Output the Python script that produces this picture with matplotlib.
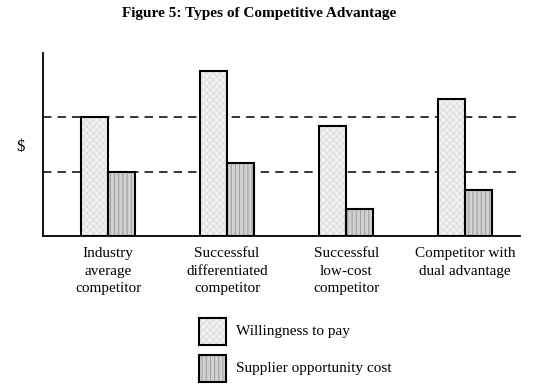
import matplotlib
matplotlib.use("Agg")
import matplotlib.pyplot as plt
import matplotlib.patches as mpatches
import numpy as np

plt.rcParams['font.family'] = ['Liberation Serif', 'DejaVu Serif']
plt.rcParams['hatch.linewidth'] = 0.7

categories = ["Industry\naverage\ncompetitor",
              "Successful\ndifferentiated\ncompetitor",
              "Successful\nlow-cost\ncompetitor",
              "Competitor with\ndual advantage"]
willingness = [65, 90, 60, 75]
supplier_cost = [35, 40, 15, 25]
reference_levels = [65, 35]

series_names = ["Willingness to pay", "Supplier opportunity cost"]

WTP_FACE = '#f2f2f2'
WTP_HATCH = '#dedede'
SOC_FACE = '#d2d2d2'
SOC_HATCH = '#9a9a9a'

fig = plt.figure(figsize=(5.4, 3.91), dpi=100)
ax = fig.add_axes([0.0796, 0.396, 0.8834, 0.468])

x = np.arange(len(categories))
w = 0.227

# dashed reference lines behind bars
for lvl in reference_levels:
    ax.axhline(lvl, color='black', linestyle=(0, (5.5, 4)), linewidth=1.1, zorder=1)

# textured fill first, then a black outline on top
ax.bar(x - w / 2, willingness, w, color=WTP_FACE, edgecolor=WTP_HATCH,
       linewidth=0, hatch='xxxxx', zorder=2)
ax.bar(x + w / 2, supplier_cost, w, color=SOC_FACE, edgecolor=SOC_HATCH,
       linewidth=0, hatch='||||', zorder=2)
ax.bar(x - w / 2, willingness, w, fill=False, edgecolor='black', linewidth=1.5, zorder=3)
ax.bar(x + w / 2, supplier_cost, w, fill=False, edgecolor='black', linewidth=1.5, zorder=3)

ax.set_xlim(-0.546, 3.46)
ax.set_ylim(0, 100)
ax.spines['top'].set_visible(False)
ax.spines['right'].set_visible(False)
ax.spines['left'].set_linewidth(1.3)
ax.spines['bottom'].set_linewidth(1.3)
ax.set_yticks([])
ax.set_xticks(x)
ax.set_xticklabels(categories, fontsize=11, linespacing=1.45)
ax.tick_params(axis='x', length=0, pad=8)

fig.text(0.037, 0.624, "$", fontsize=12, ha='center', va='center')
fig.text(0.48, 0.965, "Figure 5: Types of Competitive Advantage",
         fontsize=11, fontweight='bold', ha='center', va='center')

# legend drawn by hand, boxes stacked below the chart
legend_rows = [(WTP_FACE, WTP_HATCH, 'xxxxx'), (SOC_FACE, SOC_HATCH, '||||')]
box_w, box_h = 27 / 540, 27 / 391
for i, (face, hc, hatch) in enumerate(legend_rows):
    y0 = 1 - (345 + i * 37) / 391
    fig.add_artist(mpatches.Rectangle((199 / 540, y0), box_w, box_h, transform=fig.transFigure,
                                      facecolor=face, edgecolor=hc, linewidth=0, hatch=hatch))
    fig.add_artist(mpatches.Rectangle((199 / 540, y0), box_w, box_h, transform=fig.transFigure,
                                      fill=False, edgecolor='black', linewidth=1.5))
    fig.text(236 / 540, y0 + box_h / 2, series_names[i], fontsize=11, ha='left', va='center')

fig.savefig("out.png", dpi=100, facecolor='white')
